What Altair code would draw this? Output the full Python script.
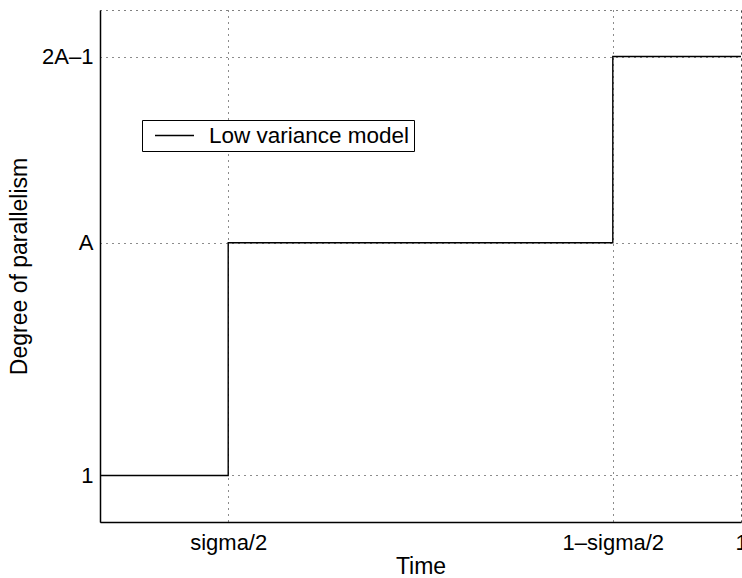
import altair as alt
import pandas as pd

# step model: time breakpoints and degree of parallelism
time_vals = [0.0, 0.2, 0.8, 1.0]
level_vals = [1.0, 5.0, 8.2, 8.2]
series = ["Low variance model"] * 4

x_ticks = [0.2, 0.8, 1.0]
x_labels = ["sigma/2", "1\u2013sigma/2", "1"]
y_ticks = [1.0, 5.0, 8.2]
y_labels = ["1", "A", "2A\u20131"]

df = pd.DataFrame({"t": time_vals, "p": level_vals, "s": series})


def label_expr(vals, labs):
    expr = "''"
    for v, l in reversed(list(zip(vals, labs))):
        expr = f"abs(datum.value - {v}) < 1e-6 ? '{l}' : ({expr})"
    return expr


FONT = "Liberation Sans"

chart = (
    alt.Chart(df)
    .mark_line(interpolate="step-after", strokeWidth=1.4)
    .encode(
        x=alt.X(
            "t:Q",
            scale=alt.Scale(domain=[0, 1], nice=False, zero=False),
            axis=alt.Axis(
                title="Time",
                values=x_ticks,
                labelExpr=label_expr(x_ticks, x_labels),
                ticks=False,
                labelPadding=10,
                titlePadding=2,
                labelFlush=False,
            ),
        ),
        y=alt.Y(
            "p:Q",
            scale=alt.Scale(domain=[0.2, 9.0], nice=False, zero=False),
            axis=alt.Axis(
                title="Degree of parallelism",
                values=y_ticks,
                labelExpr=label_expr(y_ticks, y_labels),
                ticks=False,
                labelPadding=7,
                titlePadding=10,
            ),
        ),
        color=alt.Color(
            "s:N",
            scale=alt.Scale(range=["black"]),
            legend=alt.Legend(
                title=None,
                orient="none",
                legendX=42,
                legendY=110,
                symbolType="stroke",
                symbolSize=1521,
                symbolStrokeWidth=1.3,
                symbolOffset=8,
                labelFontSize=22.5,
                labelOffset=14,
                labelLimit=500,
                labelExpr="datum.label + '\u2002\u2009'",
                clipHeight=23,
                padding=4,
                strokeColor="black",
                fillColor="white",
            ),
        ),
    )
    .properties(
        width=641,
        height=512,
        autosize=alt.AutoSizeParams(type="none"),
        padding={"left": 100, "top": 10, "right": 1, "bottom": 56},
    )
    .configure(font=FONT, background="white")
    .configure_view(stroke="black", strokeDash=[1, 5], strokeWidth=1)
    .configure_axis(
        domainColor="black",
        domainWidth=1.5,
        gridColor="black",
        gridDash=[1, 5],
        gridWidth=1,
        gridOpacity=0.9,
        tickColor="black",
        labelColor="black",
        titleColor="black",
        labelFont=FONT,
        titleFont=FONT,
        labelFontSize=22,
        titleFontSize=23,
        titleFontWeight="normal",
    )
    .configure_legend(labelFont=FONT, labelColor="black")
)

chart.save("out.html", embed_options={"renderer": "svg", "actions": False})
